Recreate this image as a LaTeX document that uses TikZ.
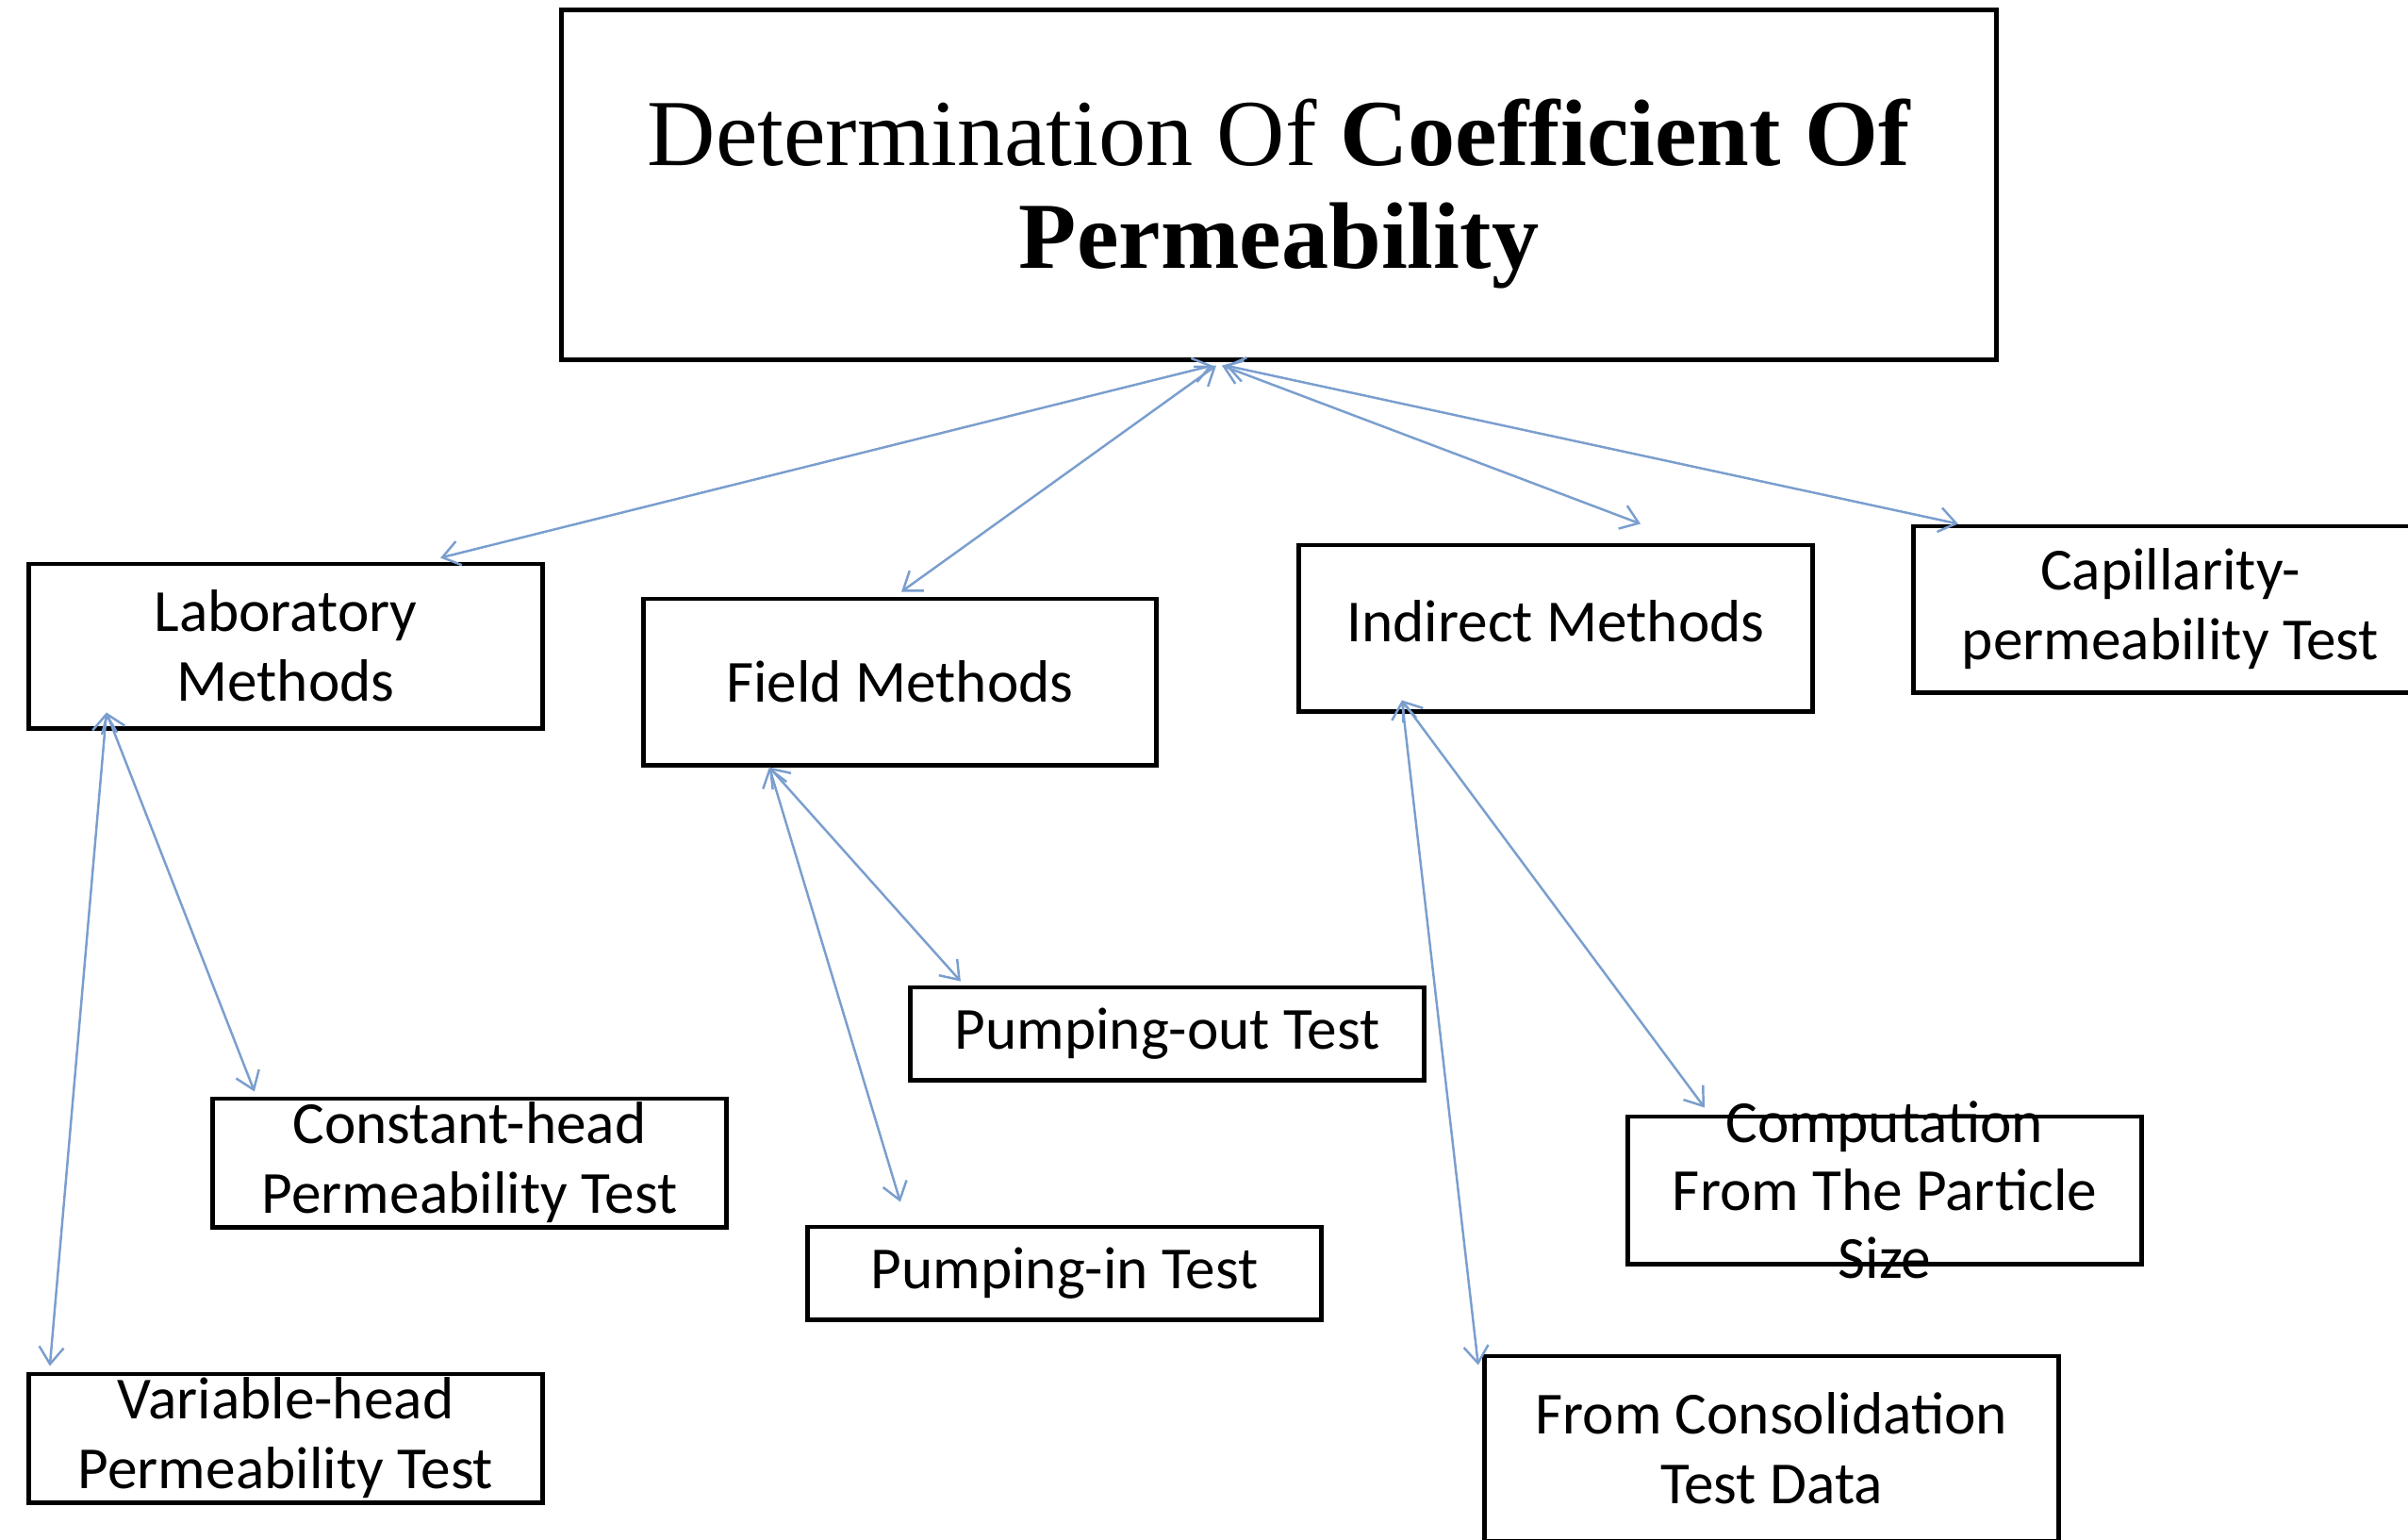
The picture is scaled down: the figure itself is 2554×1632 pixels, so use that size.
\documentclass[tikz,border=0pt]{standalone}
\usepackage{fontspec}
\setmainfont{Carlito}
\newfontfamily\titlefont{Liberation Serif}
\usepackage{xcolor}
\usepackage{tikz}
\usetikzlibrary{positioning, arrows.meta}

\definecolor{linkblue}{RGB}{122,158,206}

\begin{document}
\begin{tikzpicture}[
        x=0.01cm, y=-0.01cm,
        box/.style={draw, line width=1.4pt, minimum width=5.44cm, minimum height=#1, inner sep=0pt, align=center, font=\fontsize{18}{21}\selectfont},
        box/.default=1.76cm,
        boxtxt/.style={inner sep=0pt, align=center, font=\fontsize{18}{20.5}\selectfont},
        title/.style={draw, line width=1.4pt, minimum width=15.21cm, minimum height=3.70cm, align=center, text height=56.5pt, font=\titlefont\fontsize{28.5}{31}\selectfont},
        arr/.style={{Straight Barb[length=1.8mm,width=2.6mm]}-{Straight Barb[length=1.8mm,width=2.6mm]}, line width=0.7pt, draw=linkblue},
    ]
    \useasboundingbox (0,0) rectangle (2554,1632);

    % ---- Main title ----
    \node[title] (main) at (1356.5,196) {Determination Of \textbf{Coefficient Of}\\\textbf{Permeability}};

    % ---- Methods ----
    \node[box=1.74cm] (lab) at (303,685) {Laboratory\\Methods};
    \node[box] (field) at (954.5,723) {Field Methods};
    \node[box, text depth=4.5pt] (indirect) at (1650,666) {Indirect Methods};
    \node[box] (cap) at (2302,646) {Capillarity-\\permeability Test};

    % ---- Tests ----
    \node[box=1.36cm] (const) at (498,1233) {Constant-head\\Permeability Test};
    \node[box=1.36cm] (var) at (303,1525) {Variable-head\\Permeability Test};
    \node[box=0.98cm] (pout) at (1238,1096) {Pumping-out Test};
    \node[box=0.98cm] (pin) at (1129,1350) {Pumping-in Test};
    \node[box=1.56cm, label={[boxtxt]center:{Computation\\From The Particle\\Size}}] (comp) at (1999,1262) {};
    \node[box=1.96cm, minimum width=6.08cm] (cons) at (1879,1536) {From Consolidation\\Test Data};

    % ---- Links from title ----
    \draw[arr] ([xshift=-0.705cm,yshift=-0.04cm]main.south) -- ([xshift=1.64cm,yshift=0.04cm]lab.north);
    \draw[arr] ([xshift=-0.665cm,yshift=-0.04cm]main.south) -- ([xshift=0.015cm,yshift=0.05cm]field.north);
    \draw[arr] ([xshift=-0.605cm,yshift=-0.04cm]main.south) -- ([xshift=0.9cm,yshift=0.2cm]indirect.north);
    \draw[arr] ([xshift=-0.565cm,yshift=-0.04cm]main.south) -- ([xshift=-2.25cm]cap.north);

    % ---- Links to tests ----
    \draw[arr] ([xshift=-1.9cm,yshift=0.19cm]lab.south) -- ([xshift=-2.28cm,yshift=0.05cm]const.north);
    \draw[arr] ([xshift=-1.9cm,yshift=0.19cm]lab.south) -- ([xshift=-2.5cm,yshift=0.06cm]var.north);
    \draw[arr] ([xshift=-1.385cm]field.south) -- ([xshift=-2.19cm,yshift=0.04cm]pout.north);
    \draw[arr] ([xshift=-1.385cm]field.south) -- ([xshift=-1.74cm,yshift=0.24cm]pin.north);
    \draw[arr] ([xshift=-1.63cm,yshift=0.14cm]indirect.south) -- ([xshift=-1.91cm,yshift=0.07cm]comp.north);
    \draw[arr] ([xshift=-1.63cm,yshift=0.14cm]indirect.south) -- ([xshift=-3.11cm,yshift=-0.12cm]cons.north);
\end{tikzpicture}
\end{document}
